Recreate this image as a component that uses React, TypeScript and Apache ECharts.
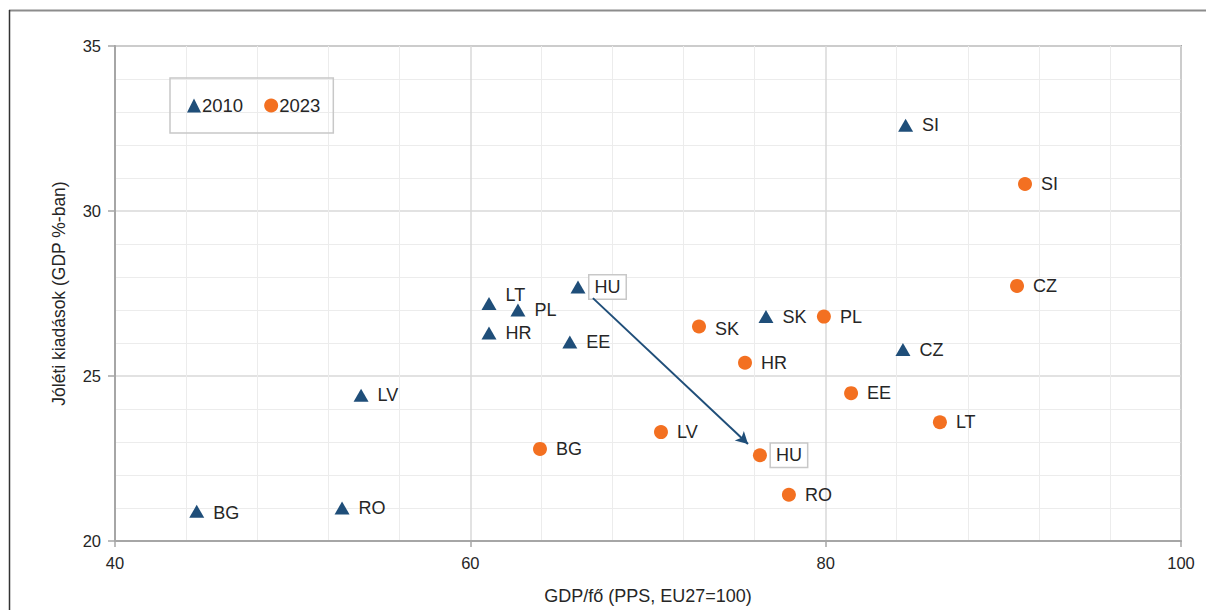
import React, { useEffect, useRef } from "react";
import * as echarts from "echarts";

const countries2010 = ["SI", "LT", "HU", "PL", "HR", "EE", "SK", "CZ", "LV", "BG", "RO"];
const gdp2010 = [84.5, 61.05, 66.06, 62.68, 61.05, 65.6, 76.64, 84.35, 53.85, 44.6, 52.78];
const welfare2010 = [32.6, 27.2, 27.7, 27.0, 26.3, 26.03, 26.8, 25.8, 24.42, 20.9, 21.0];

const countries2023 = ["SI", "CZ", "PL", "SK", "HR", "EE", "LT", "LV", "BG", "HU", "RO"];
const gdp2023 = [91.22, 90.77, 79.9, 72.87, 75.46, 81.43, 86.43, 70.73, 63.92, 76.3, 77.93];
const welfare2023 = [30.82, 27.73, 26.8, 26.5, 25.4, 24.48, 23.6, 23.3, 22.79, 22.6, 21.4];

const arrowStart = [66.9, 27.36];
const arrowEnd = [75.63, 22.94];

const xTicks = [40, 60, 80, 100];
const yTicks = [20, 25, 30, 35];

const FONT = "Liberation Sans, Arial, sans-serif";
const BLUE = "#1f4e79";
const ORANGE = "#f37021";

function labelFor(name: string, year: number) {
  const base: any = {
    show: true,
    position: "right",
    distance: 9,
    formatter: name,
    fontSize: 18,
    fontFamily: FONT,
    color: "#262626",
  };
  if (name === "HU") {
    return {
      ...base,
      distance: 4,
      borderColor: "#c8c8c8",
      borderWidth: 1.5,
      backgroundColor: "#fff",
      padding: [3, 5, 2, 5],
    };
  }
  if (year === 2010 && name === "LT") return { ...base, offset: [0, -8] };
  if (year === 2010 && name === "BG") return { ...base, offset: [0, 2] };
  if (year === 2023 && name === "SK") return { ...base, offset: [0, 2] };
  return base;
}

export default function App() {
  const ref = useRef<HTMLDivElement>(null);
  useEffect(() => {
    if (!ref.current) return;
    const chart = echarts.init(ref.current, null, { renderer: "svg" });
    const data2010 = countries2010.map((c, i) => ({
      value: [gdp2010[i], welfare2010[i]],
      label: labelFor(c, 2010),
    }));
    const data2023 = countries2023.map((c, i) => ({
      value: [gdp2023[i], welfare2023[i]],
      label: labelFor(c, 2023),
    }));
    chart.setOption({
      animation: false,
      textStyle: { fontFamily: FONT },
      grid: {
        left: 115,
        right: 25,
        top: 46,
        bottom: 69,
        show: true,
        borderColor: "#a6a6a6",
        borderWidth: 2,
        backgroundColor: "transparent",
      },
      legend: {
        left: 170,
        top: 78,
        orient: "horizontal",
        padding: [18, 13, 18, 17],
        borderColor: "#c8c8c8",
        borderWidth: 1.5,
        itemGap: 21,
        itemWidth: 14,
        itemHeight: 14,
        textStyle: { fontSize: 18.5, fontFamily: FONT, color: "#262626", padding: [0, 0, 0, -4] },
        data: ["2010", "2023"],
      },
      xAxis: {
        type: "value",
        min: xTicks[0],
        max: xTicks[xTicks.length - 1],
        interval: 20,
        name: "GDP/fő (PPS, EU27=100)",
        nameLocation: "middle",
        nameGap: 46,
        nameTextStyle: { fontSize: 18, fontFamily: FONT, color: "#262626" },
        axisLine: { show: true, lineStyle: { color: "#a6a6a6", width: 2 } },
        axisTick: { show: true, length: 6, lineStyle: { color: "#a6a6a6", width: 1.5 } },
        axisLabel: { fontSize: 16.5, fontFamily: FONT, color: "#262626", margin: 13 },
        splitLine: { show: true, lineStyle: { color: "#d9d9d9", width: 1.5 } },
        minorTick: { show: false, splitNumber: 5 },
        minorSplitLine: { show: true, lineStyle: { color: "#ececec", width: 1 } },
      },
      yAxis: {
        type: "value",
        min: yTicks[0],
        max: yTicks[yTicks.length - 1],
        interval: 5,
        name: "Jóléti kiadások (GDP %-ban)",
        nameLocation: "middle",
        nameGap: 47,
        nameTextStyle: { fontSize: 17.5, fontFamily: FONT, color: "#262626" },
        axisLine: { show: true, lineStyle: { color: "#a6a6a6", width: 2 } },
        axisTick: { show: true, length: 7, lineStyle: { color: "#a6a6a6", width: 1.5 } },
        axisLabel: { fontSize: 16.5, fontFamily: FONT, color: "#262626", margin: 14 },
        splitLine: { show: true, lineStyle: { color: "#d9d9d9", width: 1.5 } },
        minorTick: { show: false, splitNumber: 5 },
        minorSplitLine: { show: true, lineStyle: { color: "#ececec", width: 1 } },
      },
      series: [
        {
          name: "2010",
          type: "scatter",
          symbol: "triangle",
          symbolSize: [15, 13],
          itemStyle: { color: BLUE, opacity: 1 },
          data: data2010,
          z: 3,
          markLine: {
            silent: true,
            symbol: ["none", "arrow"],
            symbolSize: [10, 12],
            label: { show: false },
            lineStyle: { color: BLUE, width: 2, type: "solid", opacity: 1 },
            data: [[{ coord: arrowStart }, { coord: arrowEnd }]],
          },
        },
        {
          name: "2023",
          type: "scatter",
          symbol: "circle",
          symbolSize: 14,
          itemStyle: { color: ORANGE, opacity: 1 },
          data: data2023,
          z: 3,
        },
      ],
      graphic: [
        {
          type: "line",
          shape: { x1: 9, y1: 10.5, x2: 1206, y2: 10.5 },
          style: { stroke: "#8c8c8c", lineWidth: 2 },
          silent: true,
        },
        {
          type: "line",
          shape: { x1: 9.5, y1: 10, x2: 9.5, y2: 610 },
          style: { stroke: "#333333", lineWidth: 1.5 },
          silent: true,
        },
      ],
    });
    return () => chart.dispose();
  }, []);
  return (
    <div
      ref={ref}
      style={{ position: "fixed", left: 0, top: 0, width: 1206, height: 610, background: "#fff" }}
    />
  );
}
